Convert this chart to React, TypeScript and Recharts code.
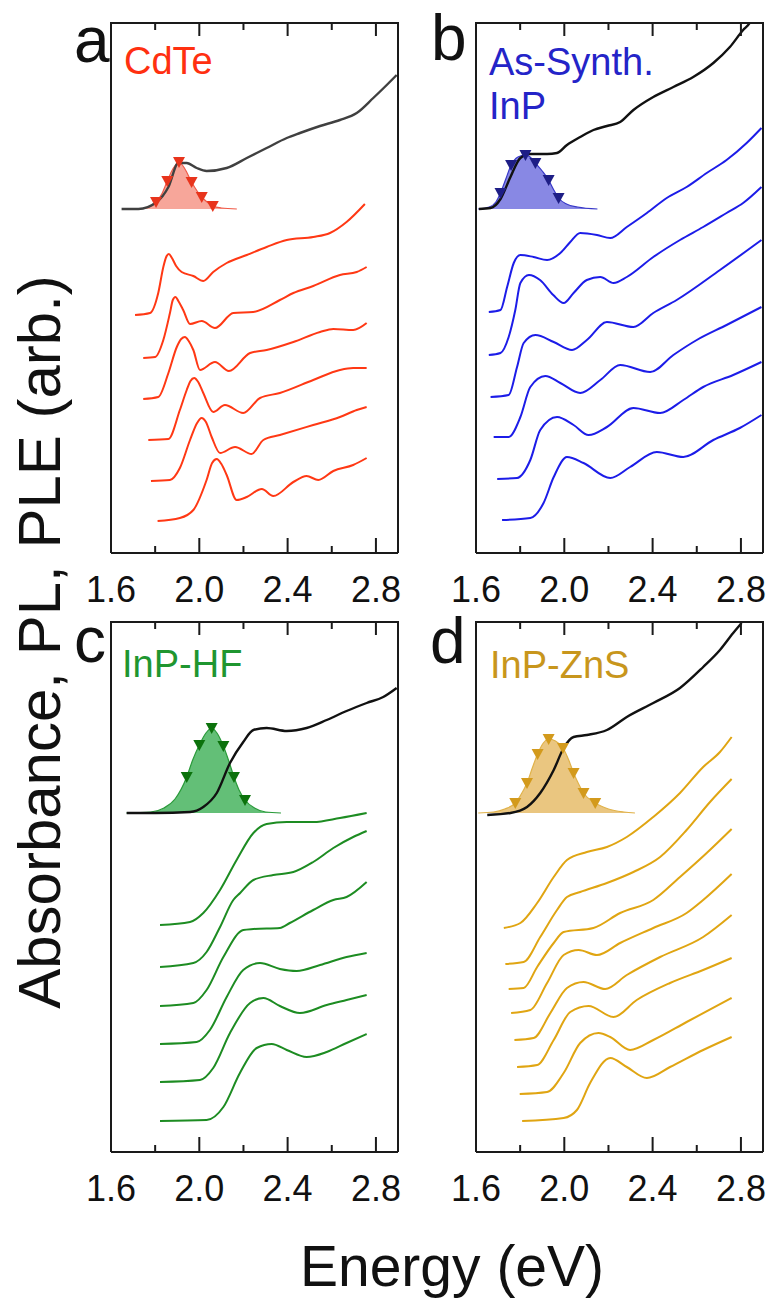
import React from "react";
import { ComposedChart, Line, Area, Scatter, XAxis, YAxis } from "recharts";

type Pt = [number, number];

// energy axis (eV)
const energyTicks = [1.6, 1.8, 2.0, 2.2, 2.4, 2.6, 2.8];
const energyLabels = [1.6, 2.0, 2.4, 2.8];
const energyDomain: [number, number] = [1.6, 2.9];
const yMax = 530;

// ---- a: CdTe ----
const cdteAbs: Pt[] = [[1.648,344],[1.724,344],[1.807,351],[1.860,366],[1.905,390],[1.943,390],[1.988,385],[2.033,382],[2.124,385],[2.215,395],[2.305,405],[2.396,415],[2.456,420],[2.547,427],[2.637,433],[2.713,440],[2.788,455],[2.849,468],[2.894,478]];
const cdtePl: Pt[] = [[1.72,344],[1.76,345],[1.80,350],[1.83,359],[1.855,372],[1.88,384],[1.908,391],[1.935,384],[1.965,371],[1.99,362],[2.011,356],[2.035,351],[2.061,347],[2.10,345],[2.17,344]];
const cdteMarks: Pt[] = [[1.804,351],[1.855,372],[1.908,391],[1.965,371],[2.011,356],[2.061,347]];
const cdtePle: Pt[][] = [
  [[1.709,238],[1.777,240],[1.814,260],[1.837,286],[1.850,296],[1.862,299],[1.876,295],[1.895,287],[1.920,281],[1.973,277],[2.018,272],[2.063,281],[2.124,290],[2.215,298],[2.305,306],[2.396,313],[2.516,316],[2.592,320],[2.667,331],[2.750,349]],
  [[1.746,195],[1.800,196],[1.837,213],[1.867,240],[1.880,253],[1.892,256],[1.905,252],[1.927,243],[1.958,229],[2.011,232],[2.071,225],[2.154,240],[2.244,241],[2.365,253],[2.426,260],[2.516,267],[2.637,278],[2.713,281],[2.758,286]],
  [[1.746,154],[1.814,156],[1.860,180],[1.898,206],[1.918,214],[1.935,216],[1.952,212],[1.973,203],[2.003,183],[2.071,191],[2.134,182],[2.230,200],[2.305,203],[2.426,211],[2.547,221],[2.607,224],[2.697,223],[2.758,230]],
  [[1.769,113],[1.860,114],[1.912,143],[1.943,163],[1.960,172],[1.977,175],[1.995,171],[2.018,160],[2.063,141],[2.116,148],[2.199,140],[2.275,155],[2.365,160],[2.516,173],[2.637,183],[2.697,185],[2.758,185]],
  [[1.781,72],[1.867,73],[1.912,85],[1.958,113],[1.990,130],[2.010,135],[2.030,131],[2.056,116],[2.094,100],[2.162,106],[2.237,99],[2.290,113],[2.365,118],[2.516,128],[2.637,136],[2.713,143],[2.758,146]],
  [[1.811,32],[1.912,35],[1.973,43],[2.033,73],[2.058,90],[2.079,94],[2.100,89],[2.124,78],[2.169,53],[2.215,56],[2.283,64],[2.335,57],[2.426,71],[2.486,77],[2.539,73],[2.607,82],[2.697,88],[2.758,95]],
];

// ---- b: as-synthesized InP ----
const inpAbs: Pt[] = [[1.613,344],[1.666,345],[1.711,354],[1.756,376],[1.801,395],[1.846,399],[1.922,399],[1.967,400],[2.012,408],[2.072,416],[2.132,423],[2.193,427],[2.253,431],[2.313,443],[2.403,456],[2.494,466],[2.584,476],[2.675,490],[2.750,506],[2.810,523],[2.840,530],[2.870,545]];
const inpPl: Pt[] = [[1.61,344],[1.66,346],[1.69,351],[1.711,360],[1.735,374],[1.759,388],[1.79,396],[1.824,398],[1.845,396],[1.869,390],[1.90,382],[1.929,373],[1.95,364],[1.974,355],[2.01,349],[2.06,346],[2.15,344]];
const inpMarks: Pt[] = [[1.711,360],[1.759,388],[1.824,398],[1.869,390],[1.929,373],[1.974,355]];
const inpPle: Pt[][] = [
  [[1.658,241],[1.711,243],[1.741,266],[1.771,290],[1.801,298],[1.861,296],[1.922,293],[1.982,300],[2.027,311],[2.072,320],[2.148,318],[2.208,315],[2.283,326],[2.374,340],[2.464,355],[2.554,366],[2.645,380],[2.735,393],[2.826,410],[2.893,425]],
  [[1.658,198],[1.711,200],[1.748,216],[1.778,243],[1.801,270],[1.840,278],[1.890,273],[1.950,258],[1.997,250],[2.042,260],[2.102,273],[2.163,276],[2.223,270],[2.283,276],[2.403,296],[2.524,313],[2.629,326],[2.735,340],[2.810,350],[2.893,366]],
  [[1.666,156],[1.748,158],[1.786,186],[1.816,210],[1.869,218],[1.952,211],[2.035,203],[2.102,213],[2.193,231],[2.313,226],[2.403,240],[2.509,253],[2.705,283],[2.893,313]],
  [[1.680,116],[1.748,116],[1.801,136],[1.846,166],[1.914,177],[1.982,170],[2.072,160],[2.163,173],[2.253,188],[2.389,181],[2.494,198],[2.600,213],[2.735,228],[2.893,246]],
  [[1.696,74],[1.786,75],[1.846,93],[1.891,123],[1.967,136],[2.042,128],[2.110,118],[2.193,126],[2.313,145],[2.434,140],[2.539,153],[2.629,166],[2.765,178],[2.893,191]],
  [[1.718,33],[1.846,35],[1.906,50],[1.952,76],[2.012,96],[2.087,90],[2.208,75],[2.298,86],[2.419,101],[2.539,96],[2.675,113],[2.795,125],[2.893,138]],
];

// ---- c: InP-HF ----
const hfAbs: Pt[] = [[1.671,339],[1.800,339],[1.958,340],[2.018,345],[2.079,359],[2.139,389],[2.199,410],[2.245,422],[2.305,424],[2.396,421],[2.486,424],[2.577,432],[2.667,441],[2.758,449],[2.833,455],[2.894,464]];
const hfPl: Pt[] = [[1.67,339],[1.78,340],[1.84,344],[1.89,353],[1.943,375],[1.97,392],[2.0,407],[2.03,419],[2.056,424],[2.08,419],[2.109,406],[2.135,390],[2.157,375],[2.18,362],[2.207,352],[2.25,344],[2.30,340],[2.37,339]];
const hfMarks: Pt[] = [[1.943,375],[2.0,407],[2.056,424],[2.109,406],[2.157,375],[2.207,352]];
const hfPle: Pt[][] = [
  [[1.822,227],[1.958,230],[2.018,239],[2.094,262],[2.169,292],[2.245,319],[2.305,328],[2.396,330],[2.516,330],[2.637,334],[2.758,339]],
  [[1.822,185],[1.973,189],[2.033,200],[2.094,225],[2.154,252],[2.185,259],[2.245,272],[2.335,277],[2.426,280],[2.516,290],[2.607,304],[2.697,315],[2.758,321]],
  [[1.822,146],[1.973,149],[2.033,162],[2.109,195],[2.199,222],[2.245,223],[2.365,224],[2.410,229],[2.516,242],[2.607,252],[2.667,255],[2.758,270]],
  [[1.822,108],[1.988,110],[2.048,122],[2.124,155],[2.199,182],[2.275,189],[2.365,183],[2.441,181],[2.547,187],[2.667,195],[2.758,199]],
  [[1.822,70],[2.003,72],[2.063,84],[2.139,119],[2.230,149],[2.290,154],[2.365,146],[2.456,139],[2.577,147],[2.667,152],[2.758,157]],
  [[1.822,31],[2.033,32],[2.109,45],[2.184,79],[2.260,104],[2.328,108],[2.396,102],[2.486,95],[2.577,100],[2.667,109],[2.758,118]],
];

// ---- d: InP-ZnS ----
const znsAbs: Pt[] = [[1.651,337],[1.756,339],[1.831,345],[1.891,359],[1.952,382],[1.997,404],[2.042,415],[2.102,417],[2.193,422],[2.283,435],[2.403,449],[2.524,464],[2.629,485],[2.705,502],[2.765,519],[2.803,529]];
const znsPl: Pt[] = [[1.61,339],[1.68,340],[1.73,343],[1.778,349],[1.80,356],[1.831,369],[1.855,384],[1.879,398],[1.905,409],[1.929,413],[1.96,411],[1.994,404],[2.02,392],[2.042,379],[2.065,368],[2.087,359],[2.14,349],[2.2,343],[2.27,340],[2.32,339]];
const znsMarks: Pt[] = [[1.778,349],[1.831,369],[1.879,398],[1.929,413],[1.994,404],[2.042,379],[2.087,359],[2.14,349]];
const znsPle: Pt[][] = [
  [[1.726,224],[1.801,229],[1.877,249],[1.952,275],[2.012,292],[2.102,300],[2.193,305],[2.283,315],[2.403,335],[2.524,359],[2.629,385],[2.705,400],[2.758,415]],
  [[1.733,188],[1.816,190],[1.891,215],[1.967,242],[2.012,255],[2.072,260],[2.193,269],[2.313,280],[2.434,295],[2.554,322],[2.660,350],[2.758,373]],
  [[1.748,163],[1.816,164],[1.877,185],[1.952,209],[1.997,220],[2.132,224],[2.253,239],[2.403,252],[2.524,275],[2.645,299],[2.758,323]],
  [[1.759,139],[1.846,142],[1.922,169],[1.997,197],[2.065,202],[2.148,197],[2.253,209],[2.403,224],[2.554,239],[2.629,252],[2.758,278]],
  [[1.774,112],[1.861,114],[1.937,139],[2.012,164],[2.087,170],[2.185,163],[2.283,177],[2.434,195],[2.629,215],[2.758,237]],
  [[1.786,85],[1.877,87],[1.952,112],[2.027,140],[2.110,146],[2.223,135],[2.328,152],[2.479,169],[2.629,182],[2.758,194]],
  [[1.798,58],[1.922,60],[1.997,79],[2.072,109],[2.155,119],[2.208,115],[2.298,102],[2.403,112],[2.554,130],[2.758,154]],
  [[1.809,31],[1.997,34],[2.057,42],[2.117,69],[2.208,94],[2.283,85],[2.374,74],[2.479,85],[2.629,102],[2.758,115]],
];

const toRows = (p: Pt[]) => p.map(([x, y]) => ({ x, y }));

const ML = 40;
const PT = 25; // plot top inside each chart (5px margin + 20px top axis band)
const PW = 287;
const PH = 530;
const FONT = "'Liberation Sans', Arial, sans-serif";
const AXIS = "#1a1a1a";

const isMajor = (v: number) => energyLabels.some((l) => Math.abs(l - v) < 1e-6);

const BottomTick = (props: any) => {
  const { x, payload } = props;
  const v = payload.value as number;
  const yb = PT + PH;
  const major = isMajor(v);
  return (
    <g>
      {v > 1.61 && <line x1={x} x2={x} y1={yb} y2={yb - (major ? 15 : 7)} stroke={AXIS} strokeWidth={2} />}
      {major && (
        <text x={x} y={yb + 49} textAnchor="middle" fontSize={36} fontFamily={FONT} fill="#111">
          {v.toFixed(1)}
        </text>
      )}
    </g>
  );
};

// top axis sits in a 20px band above the plot; its tick y is the band's lower edge minus offsets,
// so draw relative to the axis' own bottom edge (passed as y + tickSize + tickMargin).
const TopTick = (props: any) => {
  const { x, payload } = props;
  const v = payload.value as number;
  if (v < 1.61) return <g />;
  return (
    <rect x={x - 1} y={PT} width={2} height={isMajor(v) ? 13 : 7} fill={AXIS} />
  );
};

const triangle = (color: string) => (props: any) => {
  const { cx, cy } = props;
  return <path d={`M${cx - 6},${cy - 5} L${cx + 6},${cy - 5} L${cx},${cy + 6} Z`} fill={color} />;
};

type PanelProps = {
  left: number;
  top: number;
  abs: Pt[];
  absColor: string;
  pl: Pt[];
  plBase: number;
  marks: Pt[];
  ple: Pt[][];
  color: string;
  fill: string;
  plStroke: string;
  markColor: string;
};

const Panel = (p: PanelProps) => (
  <div style={{ position: "absolute", left: p.left - ML, top: p.top - PT }}>
    <ComposedChart width={PW + 2 * ML} height={PT + PH + 60} margin={{ top: 5, right: ML - 1, bottom: 0, left: ML - 1 }}>
      <XAxis
        xAxisId="b"
        dataKey="x"
        type="number"
        domain={energyDomain}
        allowDataOverflow
        ticks={energyTicks}
        interval={0}
        height={60}
        tickLine={false}
        axisLine={{ stroke: AXIS, strokeWidth: 2 }}
        tick={<BottomTick />}
      />
      <XAxis
        xAxisId="t"
        orientation="top"
        dataKey="x"
        type="number"
        domain={energyDomain}
        allowDataOverflow
        ticks={energyTicks}
        interval={0}
        height={20}
        tickLine={false}
        axisLine={false}
        tick={<TopTick />}
      />
      <YAxis yAxisId="l" type="number" domain={[0, yMax]} allowDataOverflow width={1} tick={false} tickLine={false} axisLine={{ stroke: AXIS, strokeWidth: 2 }} />
      <YAxis yAxisId="r" orientation="right" type="number" domain={[0, yMax]} allowDataOverflow width={1} tick={false} tickLine={false} axisLine={{ stroke: AXIS, strokeWidth: 2 }} />
      <Area
        xAxisId="b"
        yAxisId="l"
        data={toRows(p.pl)}
        dataKey="y"
        type="monotone"
        baseValue={p.plBase}
        fill={p.fill}
        fillOpacity={1}
        stroke={p.plStroke}
        strokeWidth={1.2}
        isAnimationActive={false}
      />
      <Line xAxisId="b" yAxisId="l" data={toRows(p.abs)} dataKey="y" type="monotone" stroke={p.absColor} strokeWidth={2.4} dot={false} activeDot={false} isAnimationActive={false} />
      <Scatter xAxisId="b" yAxisId="l" data={toRows(p.marks)} dataKey="y" shape={triangle(p.markColor)} isAnimationActive={false} />
      {p.ple.map((c, i) => (
        <Line key={i} xAxisId="b" yAxisId="l" data={toRows(c)} dataKey="y" type="monotone" stroke={p.color} strokeWidth={2} dot={false} activeDot={false} isAnimationActive={false} />
      ))}
    </ComposedChart>
    {/* top edge of the frame */}
    <div
      style={{
        position: "absolute",
        left: ML - 1,
        top: PT - 1,
        width: PW + 2,
        height: 0,
        borderTop: `2px solid ${AXIS}`,
        pointerEvents: "none",
      }}
    />
  </div>
);

export default function App() {
  return (
    <div style={{ position: "absolute", left: 0, top: 0, width: 774, height: 1305, fontFamily: FONT }}>
      <Panel left={111} top={23} abs={cdteAbs} absColor="#404040" pl={cdtePl} plBase={344} marks={cdteMarks} ple={cdtePle} color="#ff3814" fill="#f7a69a" plStroke="#f05a48" markColor="#e8341c" />
      <Panel left={476} top={23} abs={inpAbs} absColor="#111" pl={inpPl} plBase={344} marks={inpMarks} ple={inpPle} color="#1c1ce8" fill="#8888e4" plStroke="#3838c8" markColor="#1e1e86" />
      <Panel left={111} top={622} abs={hfAbs} absColor="#111" pl={hfPl} plBase={339} marks={hfMarks} ple={hfPle} color="#1d8c22" fill="#63bf77" plStroke="#2a9a3a" markColor="#0c720c" />
      <Panel left={476} top={622} abs={znsAbs} absColor="#111" pl={znsPl} plBase={339} marks={znsMarks} ple={znsPle} color="#e0a512" fill="#eac680" plStroke="#e0b24a" markColor="#d39a1c" />
      <svg width={774} height={1305} style={{ position: "absolute", left: 0, top: 0, pointerEvents: "none" }} fontFamily={FONT}>
        <text x={74} y={62} fontSize={64} fill="#111">a</text>
        <text x={431} y={60} fontSize={64} fill="#111">b</text>
        <text x={74} y={662} fontSize={64} fill="#111">c</text>
        <text x={430} y={663} fontSize={64} fill="#111">d</text>
        <text x={124} y={74} fontSize={38} fill="#ff3010">CdTe</text>
        <text x={489} y={75} fontSize={38} fill="#2424c8">As-Synth.</text>
        <text x={489} y={119} fontSize={38} fill="#2424c8">InP</text>
        <text x={122} y={677} fontSize={38} fill="#1f9630">InP-HF</text>
        <text x={490} y={678} fontSize={38} fill="#c8961c">InP-ZnS</text>
        <text x={60} y={642} fontSize={60} fill="#111" textAnchor="middle" transform="rotate(-90 60 642)">
          Absorbance, PL, PLE (arb.)
        </text>
        <text x={452} y={1286} fontSize={57} fill="#111" textAnchor="middle">Energy (eV)</text>
      </svg>
    </div>
  );
}
